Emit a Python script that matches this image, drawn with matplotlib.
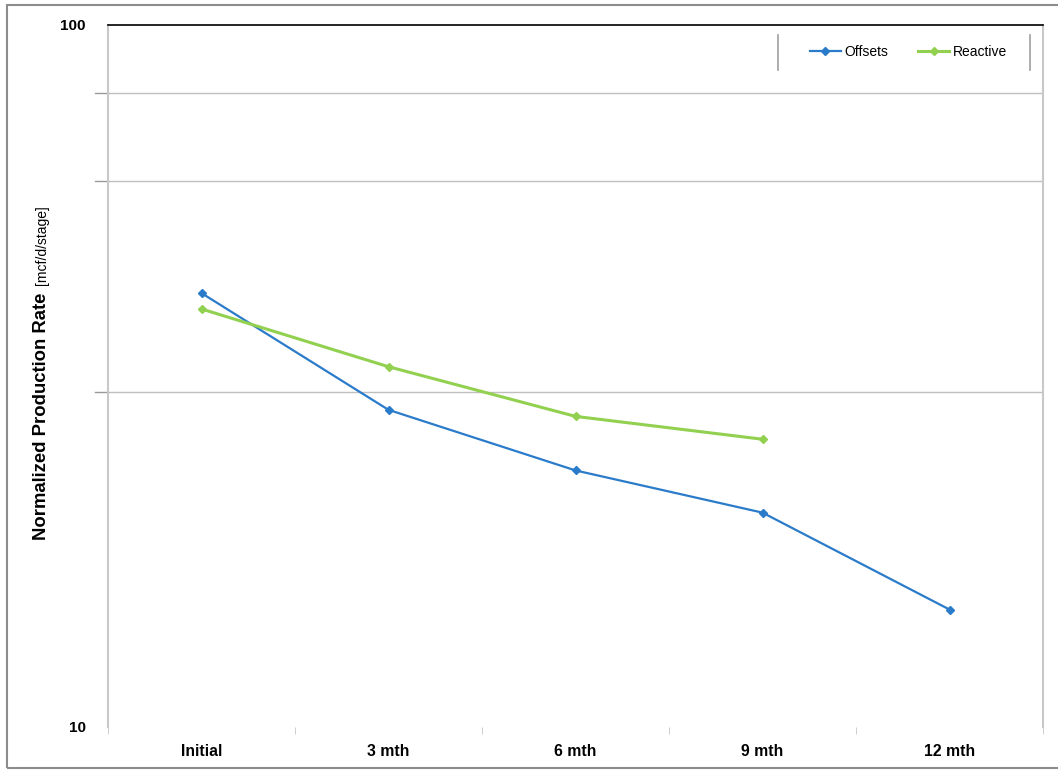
import matplotlib.pyplot as plt
from matplotlib.lines import Line2D
from matplotlib.patches import Rectangle
import numpy as np

# data
stages = ["Initial", "3 mth", "6 mth", "9 mth", "12 mth"]
offsets = [41.5, 28.3, 23.2, 20.2, 14.7]
reactive = [39.4, 32.6, 27.7, 25.7]
grid_vals = [30, 60, 80]

BLUE = '#2B7BCB'
GREEN = '#92D050'


def main():
    plt.rcParams['font.family'] = ['Liberation Sans', 'DejaVu Sans']
    W, H = 1058, 771
    fig = plt.figure(figsize=(W / 100, H / 100), dpi=100)
    ax = fig.add_axes([108 / W, 1 - 727 / H, (1043 - 108) / W, (727 - 25) / H])

    x = np.arange(len(stages))
    ax.plot(x, offsets, color=BLUE, lw=1.6, marker='D', ms=4.5, label='Offsets')
    ax.plot(x[:len(reactive)], reactive, color=GREEN, lw=2.2, marker='D', ms=4.5, label='Reactive')

    ax.set_yscale('log')
    ax.set_ylim(10, 100)
    ax.set_xlim(-0.5, len(stages) - 0.5)
    ax.set_yticks([10, 100])
    ax.set_yticklabels(['10', '100'], fontweight='bold', fontsize=11)
    ax.yaxis.set_minor_locator(plt.NullLocator())
    ax.tick_params(axis='y', length=0, pad=16)
    for g in grid_vals:
        ax.axhline(g, color='#BFBFBF', lw=1, zorder=0)
        ax.plot([-0.57, -0.5], [g, g], color='#9A9A9A', lw=1, clip_on=False)

    # categories with ticks at boundaries
    ax.set_xticks(x)
    ax.set_xticklabels(stages, fontweight='bold', fontsize=11.3)
    ax.set_xticks(np.arange(len(stages) + 1) - 0.5, minor=True)
    ax.tick_params(axis='x', which='major', length=0, pad=12)
    ax.tick_params(axis='x', which='minor', length=5, color='#C8C8C8', direction='out')

    ax.spines['bottom'].set_visible(False)
    ax.spines['top'].set_color('black')
    ax.spines['top'].set_linewidth(1.2)
    for s in ('left', 'right'):
        ax.spines[s].set_color('#C8C8C8')
        ax.spines[s].set_linewidth(1.5)

    ax.legend(loc='center left', bbox_to_anchor=((810 - 108) / (1043 - 108), 1 - 27 / 702),
              ncol=2, frameon=False, fontsize=10, handlelength=2.2, handletextpad=0.25,
              columnspacing=2.2, borderaxespad=0, borderpad=0)
    # vertical bars framing the legend
    for px in (778, 1030):
        fig.add_artist(Line2D([px / W, px / W], [1 - 35 / H, 1 - 70 / H],
                              color='#A0A0A0', lw=1.2))

    # y label: bold part + normal units
    fig.text(42 / W, 1 - 540 / H, 'Normalized Production Rate', rotation=90,
             rotation_mode='anchor', ha='left', va='center', fontweight='bold', fontsize=13.3)
    fig.text(42 / W, 1 - 285 / H, '[mcf/d/stage]', rotation=90,
             rotation_mode='anchor', ha='left', va='center', fontsize=10)

    # outer chart frame
    fig.add_artist(Rectangle((7 / W, 1 - 768 / H), 1.1, (768 - 5) / H, fill=False,
                             edgecolor='#8C8C8C', lw=1.5, transform=fig.transFigure))

    fig.savefig('out.png', dpi=100)


if __name__ == "__main__":
    main()
